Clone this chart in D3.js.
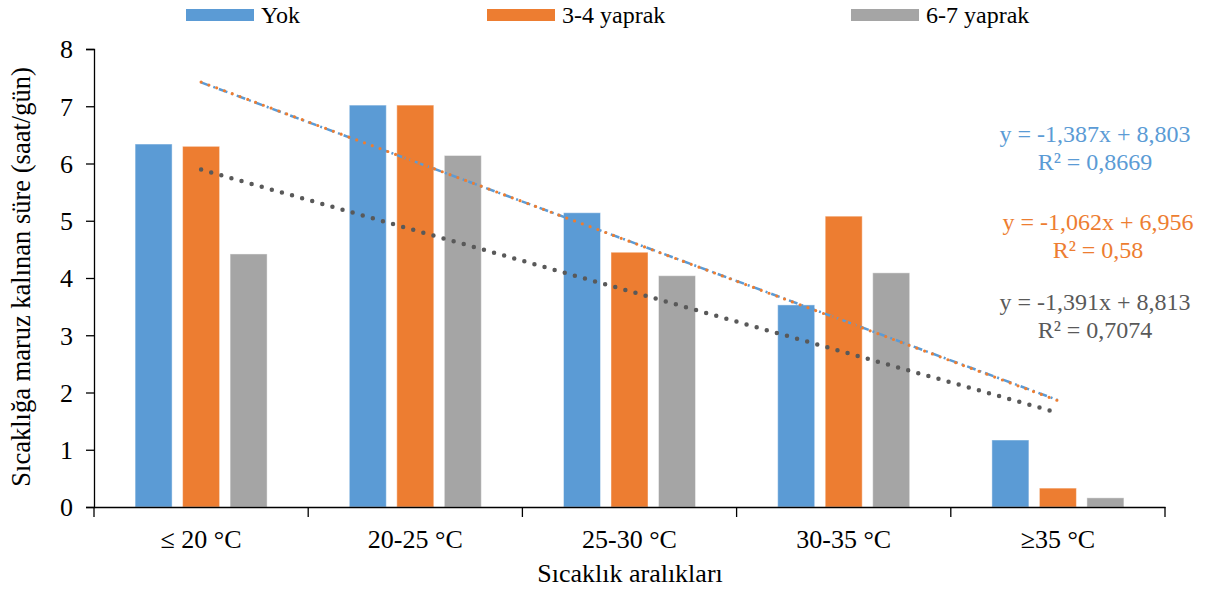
<!DOCTYPE html>
<html><head><meta charset="utf-8">
<script src="https://cdn.jsdelivr.net/npm/d3@7"></script>
<style>body{margin:0;background:#fff}svg{display:block}svg text{font-family:"Times New Roman","Liberation Serif","DejaVu Serif",serif !important}</style>
</head><body><svg id="c" width="1206" height="593"></svg>
<script>
const categories = ["≤ 20 °C","20-25 °C","25-30 °C","30-35 °C","≥35 °C"];
const seriesNames = ["Yok","3-4 yaprak","6-7 yaprak"];
const yok = [6.34, 7.02, 5.14, 3.53, 1.17];
const yaprak34 = [6.30, 7.02, 4.45, 5.08, 0.33];
const yaprak67 = [4.42, 6.14, 4.04, 4.09, 0.16];
const yTicks = [0,1,2,3,4,5,6,7,8];
// trendline coefficients [slope, intercept] as drawn
const trendYok = [-1.387, 8.803];
const trend34 = [-1.391, 8.813];
const trend67 = [-1.062, 6.956];
const labelYok = ["y = -1,387x + 8,803","R² = 0,8669"];
const labelOrange = ["y = -1,062x + 6,956","R² = 0,58"];
const labelGray = ["y = -1,391x + 8,813","R² = 0,7074"];

const FONT = '"Times New Roman","Liberation Serif","DejaVu Serif",serif';
const colors = ["#5B9BD5","#ED7D31","#A5A5A5"];
const values = [yok, yaprak34, yaprak67];
const svg = d3.select("#c");
const L=94, R=1165, T=49, B=507;
const x0 = d3.scaleBand().domain(categories).range([L,R]).padding(0);
const x1 = d3.scaleBand().domain(seriesNames).range([0,x0.bandwidth()]).paddingInner(0.221).paddingOuter(0.865);
const y = d3.scaleLinear().domain([0,8]).range([B,T]);

// bars
seriesNames.forEach((s,si)=>{
  svg.append("g").selectAll("rect").data(values[si]).join("rect")
    .attr("x",(d,i)=>x0(categories[i])+x1(s))
    .attr("y",d=>y(d))
    .attr("width",x1.bandwidth())
    .attr("height",d=>y(0)-y(d))
    .attr("fill",colors[si])
    .attr("stroke","rgba(255,255,255,0.45)").attr("stroke-width",1);
});

// axes
const yAxis = d3.axisLeft(y).tickValues(yTicks).tickSize(8).tickPadding(13).tickFormat(d3.format("d"));
const gy = svg.append("g").attr("transform",`translate(${L},0)`).call(yAxis).attr("font-family",FONT);
gy.select(".domain").attr("stroke","#000").attr("stroke-width",1.3);
gy.selectAll(".tick line").attr("stroke","#000").attr("stroke-width",1.3);
gy.selectAll("text").attr("font-size",26).attr("fill","#000").attr("dy","0.34em");

const xAxis = d3.axisBottom(x0).tickSize(0).tickPadding(23);
const gx = svg.append("g").attr("transform",`translate(0,${B})`).call(xAxis).attr("font-family",FONT);
gx.select(".domain").attr("stroke","#000").attr("stroke-width",1.3);
gx.selectAll("text").attr("font-size",26).attr("fill","#000");
gx.selectAll(".bound").data(d3.range(categories.length+1)).join("line")
  .attr("x1",i=>L+i*x0.bandwidth()).attr("x2",i=>L+i*x0.bandwidth())
  .attr("y1",0).attr("y2",10).attr("stroke","#000").attr("stroke-width",1.3);

// trendlines
const xt = d3.scaleLinear().domain([1,5]).range([x0(categories[0])+x0.bandwidth()/2, x0(categories[4])+x0.bandwidth()/2]);
const tl = (c)=>[[1,c[0]*1+c[1]],[5,c[0]*5+c[1]]];
const line = d3.line().x(d=>xt(d[0])).y(d=>y(d[1]));
svg.append("path").attr("d",line(tl(trend67))).attr("stroke","#595959").attr("stroke-width",4.5)
  .attr("stroke-linecap","round").attr("stroke-dasharray","0 10.5").attr("fill","none");
svg.append("path").attr("d",line(tl(trendYok))).attr("stroke","#5B9BD5").attr("stroke-width",2.5)
  .attr("stroke-dasharray","9 4 2 4").attr("fill","none");
svg.append("path").attr("d",line(tl(trend34))).attr("stroke","#ED7D31").attr("stroke-width",3.2)
  .attr("stroke-linecap","round").attr("stroke-dasharray","0 8.3").attr("fill","none");

// equation labels
function eq(lines,color,cx,y0){
  lines.forEach((t,i)=>svg.append("text").attr("x",cx).attr("y",y0+i*28).attr("text-anchor","middle")
    .attr("font-family",FONT).attr("font-size",24).attr("fill",color).text(t));
}
eq(labelYok,"#5B9BD5",1095,142);
eq(labelOrange,"#ED7D31",1098,230);
eq(labelGray,"#595959",1095,310);

// axis titles
svg.append("text").attr("transform","translate(30,277) rotate(-90)").attr("text-anchor","middle")
  .attr("font-family",FONT).attr("font-size",26.5).attr("fill","#000").text("Sıcaklığa maruz kalınan süre (saat/gün)");
svg.append("text").attr("x",630).attr("y",582).attr("text-anchor","middle")
  .attr("font-family",FONT).attr("font-size",26).attr("fill","#000").text("Sıcaklık aralıkları");

// legend
const legX = [186,487,851];
seriesNames.forEach((s,i)=>{
  svg.append("rect").attr("x",legX[i]).attr("y",9).attr("width",68).attr("height",12).attr("fill",colors[i]);
  svg.append("text").attr("x",legX[i]+75).attr("y",23).attr("font-family",FONT).attr("font-size",24).attr("fill","#000").text(s);
});
</script></body></html>
